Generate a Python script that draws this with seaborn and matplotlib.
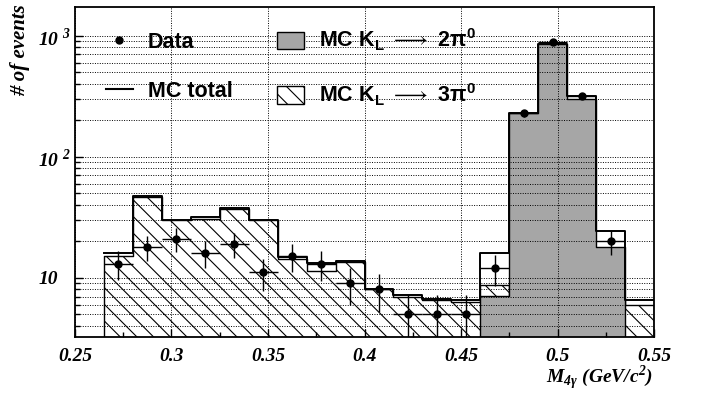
import numpy as np
import pandas as pd
import matplotlib
matplotlib.use("Agg")
import matplotlib.pyplot as plt
from matplotlib.lines import Line2D
from matplotlib.patches import Patch
from matplotlib.legend_handler import HandlerLine2D
from matplotlib.ticker import LogLocator, NullFormatter, FixedLocator
import seaborn as sns

# ---------------- data ----------------
bin_low = 0.265
bin_width = 0.015
n_bins = 19
edges = [round(bin_low + bin_width * i, 4) for i in range(n_bins + 1)]
centers = [round(e + bin_width / 2, 4) for e in edges[:-1]]

mc_total = [16.0, 47.0, 30.1, 31.9, 37.5, 30.2, 14.8, 13.2, 13.7, 8.1,
            7.2, 6.7, 6.5, 16.0, 231.0, 862.0, 318.0, 24.5, 6.5]
mc_3pi0 = [15.0, 46.5, 29.8, 30.7, 37.0, 30.0, 14.3, 11.3, 13.5, 8.0,
           7.0, 6.5, 6.3, 8.75, 3.0, 9.0, 18.0, 6.5, 5.9]
mc_2pi0 = [1.0, 0.5, 0.3, 1.2, 0.5, 0.2, 0.5, 1.9, 0.2, 0.1,
           0.2, 0.2, 0.2, 7.1, 228.0, 853.0, 300.0, 18.0, 0.6]
data_val = [13.1, 18.0, 21.0, 16.0, 19.0, 11.1, 15.0, 13.0, 9.0, 8.0,
            5.0, 5.0, 5.0, 12.0, 229.0, 880.0, 320.0, 20.0]
data_err = [3.6, 4.2, 4.6, 4.0, 4.4, 3.3, 3.9, 3.6, 3.0, 2.8,
            2.2, 2.2, 2.2, 3.5, 15.1, 29.7, 17.9, 4.5]

x_ticks = [0.25, 0.3, 0.35, 0.4, 0.45, 0.5, 0.55]
x_tick_labels = ["0.25", "0.3", "0.35", "0.4", "0.45", "0.5", "0.55"]
y_ticks = [10, 100, 1000]
y_tick_labels = ["10", r"10$\;^{\mathdefault{2}}$", r"10$\;^{\mathdefault{3}}$"]

df = pd.DataFrame({"x": centers, "total": mc_total, "k3": mc_3pi0, "k2": mc_2pi0})

# ---------------- style ----------------
plt.rcParams["mathtext.fontset"] = "custom"
plt.rcParams["mathtext.rm"] = "Liberation Sans:bold"
plt.rcParams["mathtext.it"] = "Liberation Sans:bold"
plt.rcParams["mathtext.bf"] = "Liberation Sans:bold"
plt.rcParams["mathtext.sf"] = "Liberation Sans:bold"
plt.rcParams["hatch.linewidth"] = 0.8

W, H = 701, 401
fig = plt.figure(figsize=(W / 100, H / 100), dpi=100)
ax = fig.add_axes([75 / W, 1 - 337 / H, 579 / W, 330 / H])

gray = "#a6a6a6"
hatch = "\\\\"

# 3pi0 hatched
sns.histplot(data=df, x="x", weights="k3", bins=edges, element="step", fill=True,
             facecolor="white", edgecolor="black", linewidth=1.0, hatch=hatch,
             alpha=1, ax=ax, zorder=1)
# 2pi0 gray
sns.histplot(data=df, x="x", weights="k2", bins=edges, element="step", fill=True,
             facecolor=gray, edgecolor="black", linewidth=1.0, alpha=1,
             ax=ax, zorder=1.2)
# MC total outline
sns.histplot(data=df, x="x", weights="total", bins=edges, element="step", fill=False,
             color="black", linewidth=1.4, ax=ax, zorder=1.5)

# data
ax.errorbar(centers[:len(data_val)], data_val, yerr=data_err, xerr=bin_width / 2,
            fmt="o", color="black", ms=5, elinewidth=1.0, capsize=0, zorder=5)

ax.set_yscale("log")
ax.set_xlim(0.25, 0.55)
ax.set_ylim(3.24, 1727)
ax.set_xlabel("")
ax.set_ylabel("")

# ticks
ax.set_xticks(x_ticks)
ax.set_xticklabels(x_tick_labels, fontfamily="Liberation Serif", fontweight="bold",
                   fontstyle="italic", fontsize=14)
ax.xaxis.set_minor_locator(FixedLocator([0.275, 0.325, 0.375, 0.425, 0.475, 0.525]))
ax.set_yticks(y_ticks)
ax.set_yticklabels(y_tick_labels, fontfamily="Liberation Serif", fontweight="bold",
                   fontstyle="italic", fontsize=14, ha="left")
ax.yaxis.set_minor_locator(LogLocator(base=10, subs=np.arange(2, 10)))
ax.yaxis.set_minor_formatter(NullFormatter())
ax.tick_params(axis="both", which="both", direction="in", color="black", width=1.0)
ax.tick_params(axis="y", which="major", length=6, pad=26.6)
ax.tick_params(axis="y", which="minor", length=3.5)
ax.tick_params(axis="x", which="major", length=6, pad=8)
ax.tick_params(axis="x", which="minor", length=3.5)

for s in ax.spines.values():
    s.set_linewidth(1.3)
    s.set_color("black")
    s.set_zorder(6)

ax.set_axisbelow(False)
ax.grid(True, which="major", axis="x", color="black", linestyle=(0, (1, 1.5)), linewidth=0.7, zorder=2.5)
ax.grid(True, which="both", axis="y", color="black", linestyle=(0, (1, 1.5)), linewidth=0.7, zorder=2.5)


class RightMarkerHandler(HandlerLine2D):
    def get_xdata(self, legend, xdescent, ydescent, width, height, fontsize):
        xdata, _ = super().get_xdata(legend, xdescent, ydescent, width, height, fontsize)
        return xdata, [width * 0.92 - xdescent]


# legend
data_handle = Line2D([], [], marker="o", color="black", ls="", ms=5)
handles = [
    data_handle,
    Line2D([], [], color="black", lw=1.5),
    Patch(facecolor=gray, edgecolor="black", lw=1.0),
    Patch(facecolor="white", edgecolor="black", lw=1.0, hatch=hatch),
]
labels = ["Data", "MC total",
          r"MC K$_\mathregular{L}$ $\longrightarrow$ 2$\pi^\mathregular{0}$",
          r"MC K$_\mathregular{L}$ $\longrightarrow$ 3$\pi^\mathregular{0}$"]
leg = ax.legend(handles, labels, ncol=2, frameon=False, numpoints=1,
                handler_map={data_handle: RightMarkerHandler(numpoints=1)},
                prop={"family": "Liberation Sans", "weight": "bold", "size": 15.5},
                loc="upper left", bbox_to_anchor=(106 / W, 1 - 27 / H),
                bbox_transform=fig.transFigure, borderpad=0, borderaxespad=0,
                handlelength=1.25, handleheight=0.9, handletextpad=0.7,
                columnspacing=2.05, labelspacing=1.3)
leg.set_zorder(7)

# axis titles
fig.text(20 / W, 1 - 4 / H, "# of events", rotation=90, ha="center", va="top",
         fontfamily="Liberation Serif", fontweight="bold", fontstyle="italic", fontsize=15)
fig.text(653 / W, 1 - 392 / H, r"M$_{\mathdefault{4\gamma}}$ (GeV/c$^{\mathdefault{2}}$)",
         ha="right", va="bottom",
         fontfamily="Liberation Serif", fontweight="bold", fontstyle="italic", fontsize=14)

fig.savefig("out.png", dpi=100)
